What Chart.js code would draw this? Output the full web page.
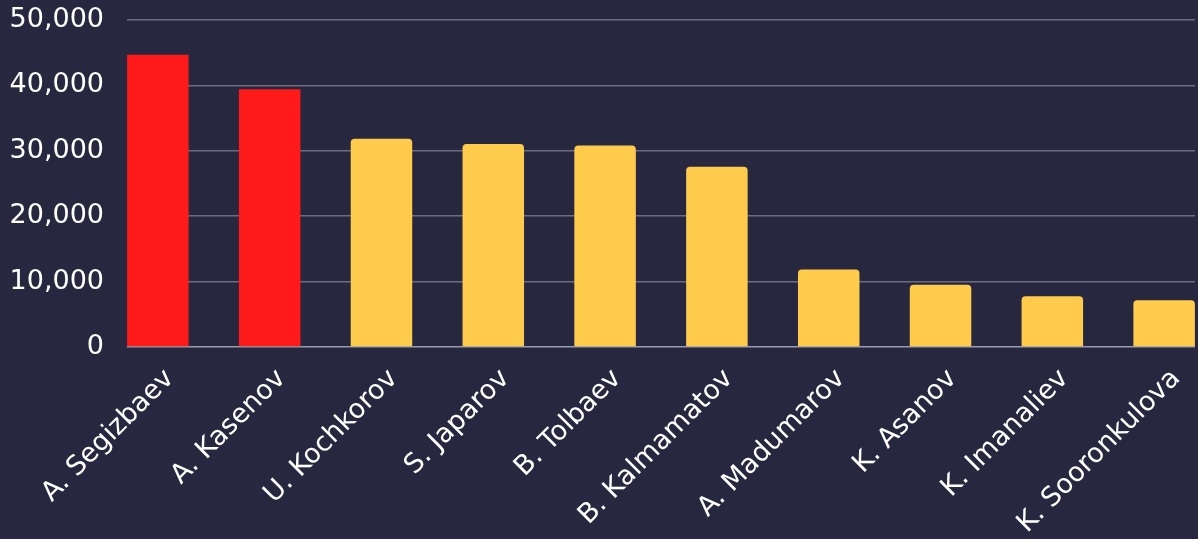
<!DOCTYPE html>
<html>
<head>
<meta charset="utf-8">
<script src="https://cdn.jsdelivr.net/npm/chart.js@4/dist/chart.umd.min.js"></script>
<style>
  html, body { margin: 0; padding: 0; background: #272840; }
  #wrap { width: 1198px; height: 539px; }
</style>
</head>
<body>
<div id="wrap"><canvas id="myChart"></canvas></div>
<script>
// Names along the bottom axis
var names = ['A. Segizbaev', 'A. Kasenov', 'U. Kochkorov', 'S. Japarov', 'B. Tolbaev',
             'B. Kalmamatov', 'A. Madumarov', 'K. Asanov', 'K. Imanaliev', 'K. Sooronkulova'];

// Values
var votes = [44700, 39400, 31850, 31050, 30800, 27550, 11850, 9500, 7750, 7150];

// First two are highlighted in red
var barColors = ['#ff1a1a', '#ff1a1a', '#ffcb4c', '#ffcb4c', '#ffcb4c',
                 '#ffcb4c', '#ffcb4c', '#ffcb4c', '#ffcb4c', '#ffcb4c'];

// Y axis ticks
var yTicks = [0, 10000, 20000, 30000, 40000, 50000];

var tickFont = { family: 'DejaVu Sans', size: 27 };

var ctx = document.getElementById('myChart').getContext('2d');
var myChart = new Chart(ctx, {
  type: 'bar',
  data: {
    datasets: [{
      data: votes.map(function (v, i) { return { x: i, y: v }; }),
      backgroundColor: barColors,
      borderRadius: barColors.map(function (c, i) { return i < 2 ? 0 : 4; }),
      barPercentage: 1,
      categoryPercentage: 0.55
    }]
  },
  options: {
    responsive: true,
    maintainAspectRatio: false,
    animation: false,
    layout: { padding: { top: 20, right: 3, left: 10, bottom: 0 } },
    plugins: {
      legend: { display: false },
      tooltip: { enabled: false }
    },
    scales: {
      x: {
        type: 'linear',
        offset: false,
        min: -0.276,
        max: 9.276,
        grid: { display: false, offset: false },
        border: { display: false },
        afterBuildTicks: function (scale) {
          scale.ticks = names.map(function (n, i) { return { value: i }; });
        },
        afterFit: function (scale) {
          // rotated labels may hang past the left edge, as in the picture
          scale.paddingLeft = 0;
          scale.paddingRight = 0;
          scale.height = 192;
        },
        ticks: {
          color: '#ffffff',
          font: tickFont,
          autoSkip: false,
          minRotation: 45,
          maxRotation: 45,
          padding: 8,
          labelOffset: 12,
          callback: function (value) { return names[value]; }
        }
      },
      y: {
        min: 0,
        max: 50000,
        afterBuildTicks: function (scale) {
          scale.ticks = yTicks.map(function (v) { return { value: v }; });
        },
        afterFit: function (scale) {
          scale.paddingTop = 0;
          scale.paddingBottom = 0;
          scale.width = 117;
        },
        grid: {
          drawTicks: false,
          color: function (c) { return c.tick && c.tick.value === 0 ? '#9a9bab' : 'rgba(190,190,205,0.45)'; },
          lineWidth: 1.5
        },
        border: { display: false },
        ticks: {
          color: '#ffffff',
          font: tickFont,
          padding: 23,
          callback: function (value) { return value.toLocaleString('en-US'); }
        }
      }
    }
  }
});
</script>
</body>
</html>
